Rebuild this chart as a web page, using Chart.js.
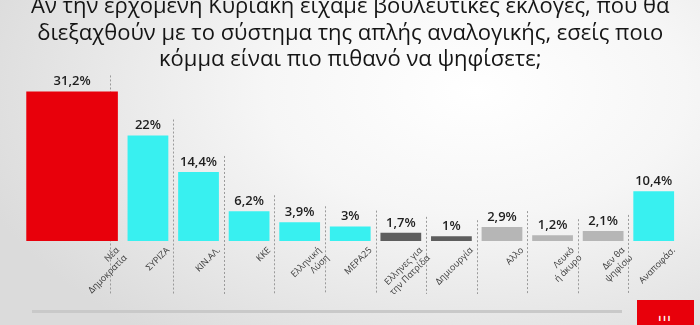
<!DOCTYPE html>
<html>
<head>
<meta charset="utf-8">
<script src="https://cdn.jsdelivr.net/npm/chart.js@4"></script>
<style>
  html, body { margin: 0; padding: 0; }
  body {
    width: 700px; height: 325px; overflow: hidden; position: relative;
    background: radial-gradient(ellipse 75% 95% at 68% 28%, #ffffff 0%, #f6f6f6 40%, #e4e4e4 80%, #dbdbdb 100%);
  }
  #wrap { position: absolute; left: 0; top: 0; width: 700px; height: 325px; }
  .rule { position: absolute; left: 32px; top: 310px; width: 590px; height: 3px; background: #c9c9c9; }
  .logo {
    position: absolute; left: 637px; top: 300px; width: 57px; height: 25px; background: #e8000b;
    color: #fff; font: bold 7px 'DejaVu Sans', sans-serif; text-align: center; line-height: 38px; letter-spacing: 2px;
  }
</style>
</head>
<body>
<div id="wrap"><canvas id="chart"></canvas></div>
<div class="rule"></div>
<div class="logo">III</div>
<script>
const TITLE = [
  'Αν την ερχόμενη Κυριακή είχαμε βουλευτικές εκλογές, που θα',
  'διεξαχθούν με το σύστημα της απλής αναλογικής, εσείς ποιο',
  'κόμμα είναι πιο πιθανό να ψηφίσετε;'
];
const PARTIES = [
  ['Νέα', 'Δημοκρατία'], 'ΣΥΡΙΖΑ', 'ΚΙΝ.ΑΛ.', 'ΚΚΕ', ['Ελληνική', 'Λύση'], 'ΜΕΡΑ25',
  ['Ελληνες για', 'την Πατρίδα'], 'Δημιουργία', 'Αλλο', ['Λευκό', 'ή άκυρο'], ['Δεν θα', 'ψηφίσω'], 'Αναποφάσ.'
];
const VALUES = [31.2, 22, 14.4, 6.2, 3.9, 3, 1.7, 1, 2.9, 1.2, 2.1, 10.4];

const RED = '#e8000b';
const CYAN = '#38f0f0';
const DARK = '#5e5e5e';
const LIGHT = '#b6b6b6';
const barColors = [RED, CYAN, CYAN, CYAN, CYAN, CYAN, DARK, DARK, LIGHT, LIGHT, LIGHT, CYAN];

// first party gets a double-width slot, the rest sit one unit apart
const xOf = i => (i === 0 ? 0.5 : i + 1);
const NARROW = 0.81, WIDE = 1.82;
const halfOf = i => (i === 0 ? WIDE : NARROW) / 2;

const points = VALUES.map((v, i) => ({ x: xOf(i), y: v }));
const fmt = v => String(v).replace('.', ',') + '%';

const valueLabels = {
  id: 'valueLabels',
  afterDatasetsDraw(chart) {
    const ctx = chart.ctx;
    ctx.save();
    ctx.font = "600 13px 'Open Sans'";
    ctx.fillStyle = '#1e1e1e';
    ctx.textAlign = 'center';
    ctx.textBaseline = 'middle';
    chart.data.datasets.forEach((ds, d) => {
      chart.getDatasetMeta(d).data.forEach((bar, j) => {
        ctx.fillText(fmt(ds.data[j].y), bar.x, bar.y - 10);
      });
    });
    ctx.restore();
  }
};

const separators = {
  id: 'separators',
  beforeDatasetsDraw(chart) {
    const { ctx, scales: { x, y } } = chart;
    ctx.save();
    ctx.strokeStyle = '#9a9a9a';
    ctx.lineWidth = 1;
    ctx.setLineDash([2, 2]);
    for (let i = 0; i < VALUES.length - 1; i++) {
      const px = Math.round(x.getPixelForValue((xOf(i) + xOf(i + 1)) / 2)) + 0.5;
      const top = y.getPixelForValue(VALUES[i]) - 16;
      ctx.beginPath();
      ctx.moveTo(px, top);
      ctx.lineTo(px, 294);
      ctx.stroke();
    }
    ctx.restore();
  }
};

new Chart(document.getElementById('chart'), {
  type: 'bar',
  data: {
    datasets: [{
      data: points.slice(0, 1),
      backgroundColor: barColors.slice(0, 1),
      barPercentage: WIDE,
      categoryPercentage: 1,
      grouped: false,
    }, {
      data: points.slice(1),
      backgroundColor: barColors.slice(1),
      barPercentage: NARROW,
      categoryPercentage: 1,
      grouped: false,
    }]
  },
  options: {
    responsive: true,
    maintainAspectRatio: false,
    animation: false,
    layout: { padding: { left: 21.5, right: 21, top: 0, bottom: 0 } },
    plugins: {
      legend: { display: false },
      tooltip: { enabled: false },
      title: {
        display: true,
        text: TITLE,
        color: '#151515',
        font: { family: "'Open Sans'", size: 22, weight: 'normal', lineHeight: 1.2 },
        padding: { top: -6, bottom: 0 }
      }
    },
    scales: {
      x: {
        type: 'linear',
        offset: false,
        min: -0.5,
        max: 12.5,
        grid: { display: false, drawTicks: false, offset: false },
        border: { display: false },
        afterBuildTicks: axis => { axis.ticks = VALUES.map((v, i) => ({ value: xOf(i) + halfOf(i) - 0.005 })); },
        afterFit: axis => {
          axis.height = 84;
          axis.paddingLeft = 0;
          axis.paddingRight = 0;
        },
        ticks: {
          autoSkip: false,
          minRotation: 45,
          maxRotation: 45,
          padding: 4,
          color: '#3a3a3a',
          font: { family: "'Open Sans'", size: 9 },
          callback: (v, i) => PARTIES[i]
        }
      },
      y: {
        display: false,
        min: 0,
        max: 35
      }
    }
  },
  plugins: [separators, valueLabels]
});
</script>
</body>
</html>
